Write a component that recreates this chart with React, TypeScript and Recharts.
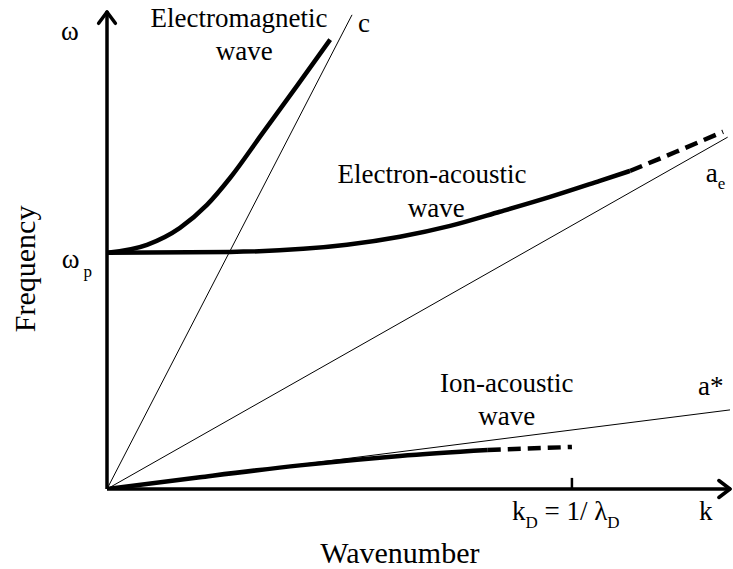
import { ComposedChart, Line, XAxis, YAxis, ReferenceLine, ReferenceDot } from 'recharts'

// k in units of k_D, omega in units of omega_p
const emWave = [
  { x: 0, y: 1.0 }, { x: 0.086, y: 1.034 }, { x: 0.157, y: 1.106 }, { x: 0.215, y: 1.203 },
  { x: 0.265, y: 1.318 }, { x: 0.335, y: 1.508 }, { x: 0.409, y: 1.708 }, { x: 0.48, y: 1.903 },
]
const electronAcoustic = [
  { x: 0, y: 1.0 }, { x: 0.265, y: 1.004 }, { x: 0.516, y: 1.034 }, { x: 0.63, y: 1.068 },
  { x: 0.738, y: 1.114 }, { x: 0.845, y: 1.174 }, { x: 0.953, y: 1.237 }, { x: 1.06, y: 1.305 },
  { x: 1.125, y: 1.347 },
]
const electronAcousticDash = [{ x: 1.125, y: 1.347 }, { x: 1.224, y: 1.428 }, { x: 1.325, y: 1.513 }]
const ionAcoustic = [{ x: 0, y: 0 }, { x: 0.2, y: 0.05 }, { x: 0.415, y: 0.1 }, { x: 0.63, y: 0.14 }, { x: 0.819, y: 0.165 }]
const ionAcousticDash = [{ x: 0.819, y: 0.165 }, { x: 1.0, y: 0.178 }]
const lightLine = [{ x: 0, y: 0 }, { x: 0.527, y: 2.008 }]
const aeLine = [{ x: 0, y: 0 }, { x: 1.335, y: 1.49 }]
const aStarLine = [{ x: 0, y: 0 }, { x: 1.34, y: 0.335 }]

const X_MAX = 1.34
const Y_MAX = 2.02
const K_D = 1

const FONT = 'Liberation Serif'
const fs = 27
const sub = 17

const note = (key: string, x: number, y: number, draw: (cx: number, cy: number) => any) => (
  <ReferenceDot
    key={key} x={x} y={y} r={1} fill="none" stroke="none" ifOverflow="visible"
    label={(p: any) => {
      const vb = p.viewBox || { x: p.x, y: p.y, width: 0, height: 0 }
      return draw(vb.x + (vb.width || 0) / 2, vb.y + (vb.height || 0) / 2)
    }}
  />
)

const T = (props: any) => <text fontFamily={FONT} fontSize={fs} fill="#000" {...props} />

const axisLine = { stroke: '#000', strokeWidth: 3.5, ifOverflow: 'visible' as const }

export default function App() {
  return (
    <div style={{ position: 'absolute', left: 0, top: 0, width: 733, height: 569, fontFamily: FONT }}>
      <ComposedChart width={733} height={569} margin={{ top: 12, right: 3, bottom: 80, left: 107 }}>
        <XAxis type="number" dataKey="x" domain={[0, X_MAX]} allowDataOverflow hide />
        <YAxis type="number" dataKey="y" domain={[0, Y_MAX]} allowDataOverflow hide />

        {/* axes with arrowheads */}
        <ReferenceLine segment={[{ x: 0, y: 0 }, { x: X_MAX, y: 0 }]} {...axisLine} />
        <ReferenceLine segment={[{ x: 0, y: 0 }, { x: 0, y: Y_MAX }]} {...axisLine} />
        <ReferenceLine segment={[{ x: X_MAX, y: 0 }, { x: X_MAX - 0.024, y: 0.036 }]} {...axisLine} strokeLinecap="round" />
        <ReferenceLine segment={[{ x: X_MAX, y: 0 }, { x: X_MAX - 0.024, y: -0.036 }]} {...axisLine} strokeLinecap="round" />
        <ReferenceLine segment={[{ x: 0, y: Y_MAX }, { x: 0.018, y: Y_MAX - 0.048 }]} {...axisLine} strokeLinecap="round" />
        <ReferenceLine segment={[{ x: 0, y: Y_MAX }, { x: -0.018, y: Y_MAX - 0.048 }]} {...axisLine} strokeLinecap="round" />
        <ReferenceLine segment={[{ x: K_D, y: 0 }, { x: K_D, y: 0.047 }]} stroke="#000" strokeWidth={2.5} ifOverflow="visible" />

        <Line data={lightLine} dataKey="y" type="linear" stroke="#000" strokeWidth={1} dot={false} isAnimationActive={false} />
        <Line data={aeLine} dataKey="y" type="linear" stroke="#000" strokeWidth={1} dot={false} isAnimationActive={false} />
        <Line data={aStarLine} dataKey="y" type="linear" stroke="#000" strokeWidth={1} dot={false} isAnimationActive={false} />

        <Line data={emWave} dataKey="y" type="monotone" stroke="#000" strokeWidth={4.5} dot={false} isAnimationActive={false} />
        <Line data={electronAcoustic} dataKey="y" type="monotone" stroke="#000" strokeWidth={4.5} dot={false} isAnimationActive={false} />
        <Line data={electronAcousticDash} dataKey="y" type="monotone" stroke="#000" strokeWidth={4.5} strokeDasharray="13 7" dot={false} isAnimationActive={false} />
        <Line data={ionAcoustic} dataKey="y" type="monotone" stroke="#000" strokeWidth={4.5} dot={false} isAnimationActive={false} />
        <Line data={ionAcousticDash} dataKey="y" type="linear" stroke="#000" strokeWidth={4.5} strokeDasharray="13 7" dot={false} isAnimationActive={false} />

        {note('em1', 0.284, 1.958, (x, y) => <T x={x} y={y} textAnchor="middle">Electromagnetic</T>)}
        {note('em2', 0.295, 1.818, (x, y) => <T x={x} y={y} textAnchor="middle">wave</T>)}
        {note('c', 0.553, 1.936, (x, y) => <T x={x} y={y} textAnchor="middle">c</T>)}
        {note('ea1', 0.699, 1.297, (x, y) => <T x={x} y={y} textAnchor="middle">Electron-acoustic</T>)}
        {note('ea2', 0.708, 1.153, (x, y) => <T x={x} y={y} textAnchor="middle">wave</T>)}
        {note('ae', 1.288, 1.301, (x, y) => (
          <T x={x} y={y}>a<tspan fontSize={sub} dy={7}>e</tspan></T>
        ))}
        {note('ia1', 0.86, 0.411, (x, y) => <T x={x} y={y} textAnchor="middle">Ion-acoustic</T>)}
        {note('ia2', 0.86, 0.271, (x, y) => <T x={x} y={y} textAnchor="middle">wave</T>)}
        {note('as', 1.271, 0.398, (x, y) => <T x={x} y={y}>a*</T>)}
        {note('w', -0.08, 1.903, (x, y) => <T x={x} y={y} textAnchor="middle">ω</T>)}
        {note('wp', -0.08, 0.936, (x, y) => (
          <T x={x - 8} y={y}>ω<tspan fontSize={sub} dx={4} dy={9}>p</tspan></T>
        ))}
        {note('freq', -0.178, 0.932, (x, y) => (
          <T x={x} y={y} fontSize={30} textAnchor="middle" dominantBaseline="central" transform={`rotate(-90 ${x} ${y})`}>Frequency</T>
        ))}
        {note('kd', 0.871, -0.131, (x, y) => (
          <T x={x} y={y}>k<tspan fontSize={sub} dy={8}>D</tspan><tspan dy={-8}> = 1/ λ</tspan><tspan fontSize={sub} dy={8}>D</tspan></T>
        ))}
        {note('k', 1.288, -0.131, (x, y) => <T x={x} y={y} textAnchor="middle">k</T>)}
        {note('wn', 0.63, -0.314, (x, y) => <T x={x} y={y} fontSize={30} textAnchor="middle">Wavenumber</T>)}
      </ComposedChart>
    </div>
  )
}
